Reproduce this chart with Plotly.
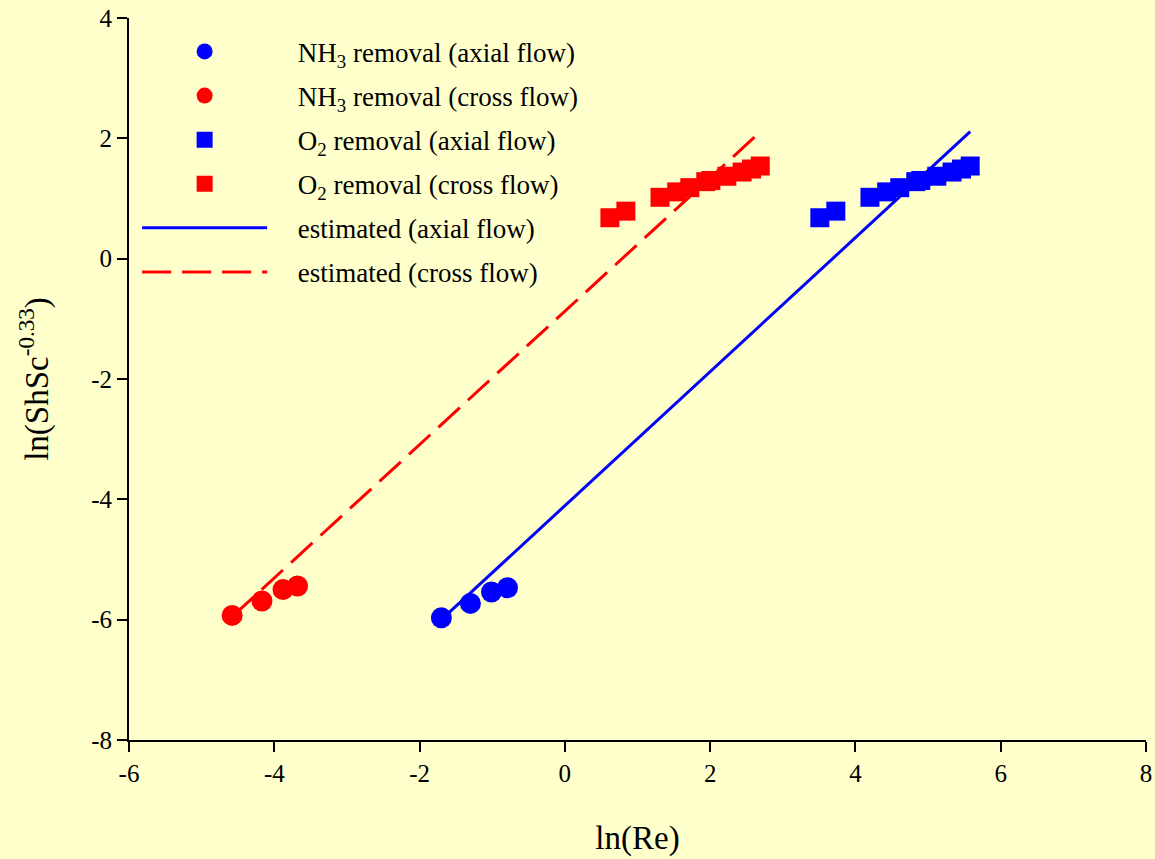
import plotly.graph_objects as go

# NH3 removal (circles)
nh3_axial_x = [-1.70, -1.30, -1.01, -0.79]
nh3_axial_y = [-5.97, -5.73, -5.54, -5.47]
nh3_cross_x = [-4.58, -4.17, -3.88, -3.68]
nh3_cross_y = [-5.93, -5.69, -5.50, -5.44]

# O2 removal (squares)
o2_cross_x = [0.62, 0.84, 1.31, 1.54, 1.72, 1.94, 2.01, 2.23, 2.44, 2.57, 2.69]
o2_cross_y = [0.68, 0.79, 1.02, 1.11, 1.18, 1.28, 1.30, 1.37, 1.44, 1.49, 1.54]
o2_axial_x = [3.51, 3.73, 4.20, 4.43, 4.61, 4.83, 4.90, 5.12, 5.33, 5.46, 5.58]
o2_axial_y = [0.68, 0.79, 1.02, 1.11, 1.18, 1.28, 1.30, 1.37, 1.44, 1.49, 1.54]

# estimated lines
est_axial_x = [-1.70, 5.58]
est_axial_y = [-6.00, 2.11]
est_cross_x = [-4.58, 2.71]
est_cross_y = [-5.95, 2.13]

x_ticks = [-6, -4, -2, 0, 2, 4, 6, 8]
y_ticks = [-8, -6, -4, -2, 0, 2, 4]

BLUE = "#0000FF"
RED = "#FF0000"
BG = "#FFFFCC"
FONT = "Liberation Serif"
PAD = "\u00a0\u00a0\u00a0\u2009"

fig = go.Figure()
# lines first so markers are drawn on top; legendrank keeps legend order
fig.add_trace(go.Scatter(x=est_axial_x, y=est_axial_y, mode="lines",
                         name=PAD + "estimated (axial flow)", legendrank=5, legendgroup="g5",
                         line=dict(color=BLUE, width=3)))
fig.add_trace(go.Scatter(x=est_cross_x, y=est_cross_y, mode="lines",
                         name=PAD + "estimated (cross flow)", legendrank=6, legendgroup="g6",
                         line=dict(color=RED, width=3, dash="29px,11px")))
fig.add_trace(go.Scatter(x=nh3_axial_x, y=nh3_axial_y, mode="markers",
                         name=PAD + "NH<sub>3</sub> removal (axial flow)", legendrank=1, legendgroup="g1",
                         marker=dict(symbol="circle", size=21, color=BLUE)))
fig.add_trace(go.Scatter(x=nh3_cross_x, y=nh3_cross_y, mode="markers",
                         name=PAD + "NH<sub>3</sub> removal (cross flow)", legendrank=2, legendgroup="g2",
                         marker=dict(symbol="circle", size=21, color=RED)))
fig.add_trace(go.Scatter(x=o2_axial_x, y=o2_axial_y, mode="markers",
                         name=PAD + "O<sub>2</sub> removal (axial flow)", legendrank=3, legendgroup="g3",
                         marker=dict(symbol="square", size=19, color=BLUE)))
fig.add_trace(go.Scatter(x=o2_cross_x, y=o2_cross_y, mode="markers",
                         name=PAD + "O<sub>2</sub> removal (cross flow)", legendrank=4, legendgroup="g4",
                         marker=dict(symbol="square", size=19, color=RED)))

axis_common = dict(showgrid=False, zeroline=False, showline=True, linecolor="black",
                   linewidth=2, ticks="outside", ticklen=10, tickwidth=1.5, tickcolor="black",
                   automargin=False,
                   tickfont=dict(family=FONT, size=25, color="black"))

fig.update_layout(
    width=1155, height=859, autosize=False,
    paper_bgcolor=BG, plot_bgcolor=BG,
    margin=dict(l=129, r=9, t=18, b=119, autoexpand=False),
    font=dict(family=FONT, color="black", size=25),
    xaxis=dict(range=[-6, 8], tickvals=x_ticks, ticktext=[str(v) for v in x_ticks],
               title=dict(text="ln(Re)", font=dict(family=FONT, size=33), standoff=40),
               **axis_common),
    yaxis=dict(range=[-8, 4], tickvals=y_ticks, ticktext=[str(v) for v in y_ticks],
               title=dict(text="ln(ShSc<sup>-0.33</sup>)", font=dict(family=FONT, size=33), standoff=33),
               **axis_common),
    showlegend=True,
    legend=dict(x=0.008, y=0.987, xanchor="left", yanchor="top",
                bgcolor="rgba(0,0,0,0)", font=dict(family=FONT, size=27),
                itemwidth=125, tracegroupgap=6, traceorder="grouped"),
)

fig.write_html("out.html",
               config=dict(displayModeBar=False, responsive=False),
               post_script="document.body.style.margin='0';document.body.style.padding='0';")
